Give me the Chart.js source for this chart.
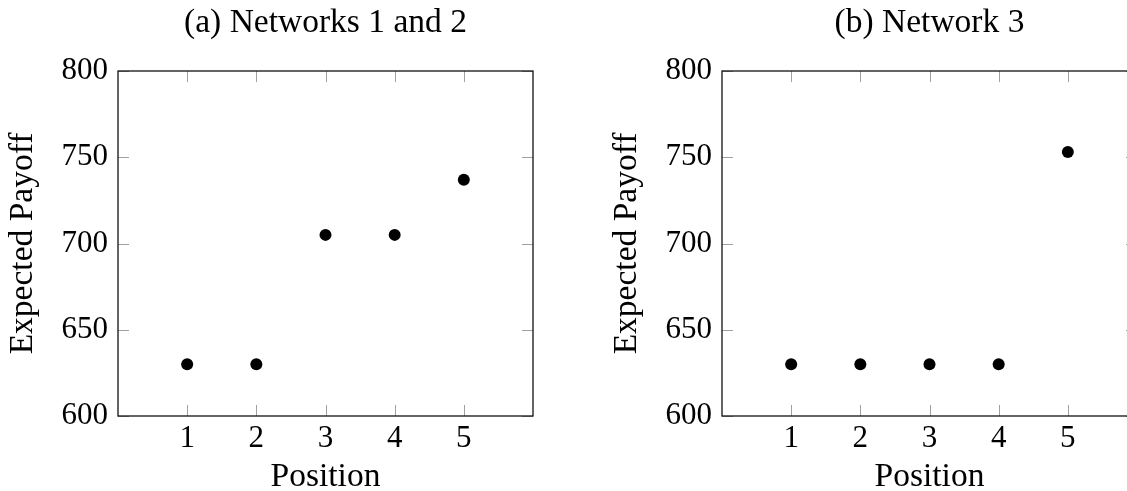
<!DOCTYPE html>
<html><head><meta charset="utf-8">
<script src="https://cdn.jsdelivr.net/npm/chart.js@4"></script>
<style>
html,body{margin:0;padding:0;overflow:hidden;width:1127px;height:491px;background:#fff}
canvas{position:absolute;top:0}
</style></head><body>
<canvas id="ca" width="563" height="500" style="left:0px"></canvas>
<canvas id="cb" width="563" height="500" style="left:604px"></canvas>
<script>
const positions = [1, 2, 3, 4, 5];
const payoffA = [630, 630, 705, 705, 737];
const payoffB = [630, 630, 630, 630, 753];
const xTicks = [1, 2, 3, 4, 5];
const yTicks = [600, 650, 700, 750, 800];
const titleA = '(a) Networks 1 and 2';
const titleB = '(b) Network 3';
const xLabel = 'Position';
const yLabel = 'Expected Payoff';

const FONT = "'Liberation Serif', 'Times New Roman', serif";
const FS = 31;
const FT = 33.5;

const frameTicks = {
  id: 'frameTicks',
  afterDatasetsDraw(chart, args, opts) {
    const {ctx, chartArea: a, scales} = chart;
    const L = 11;
    ctx.save();
    ctx.strokeStyle = '#a0a0a0';
    ctx.lineWidth = 1;
    scales.x.ticks.forEach(t => {
      const px = Math.round(scales.x.getPixelForValue(t.value)) + 0.5;
      ctx.beginPath();
      ctx.moveTo(px, a.bottom); ctx.lineTo(px, a.bottom - L);
      ctx.moveTo(px, a.top); ctx.lineTo(px, a.top + L);
      ctx.stroke();
    });
    scales.y.ticks.forEach(t => {
      const py = Math.round(scales.y.getPixelForValue(t.value)) + 0.5;
      ctx.beginPath();
      ctx.moveTo(a.left, py); ctx.lineTo(a.left + L, py);
      ctx.moveTo(a.right, py); ctx.lineTo(a.right - L, py);
      ctx.stroke();
    });
    ctx.strokeStyle = '#111';
    ctx.lineWidth = 1.3;
    ctx.strokeRect(a.left, a.top, a.right - a.left, a.bottom - a.top);
    // panel title centred over the plot area
    ctx.fillStyle = '#000';
    ctx.font = FT + 'px ' + FONT;
    ctx.textAlign = 'center';
    ctx.textBaseline = 'alphabetic';
    ctx.fillText(opts.text, (a.left + a.right) / 2, 32);
    ctx.restore();
  }
};

function makeChart(id, values, title) {
  return new Chart(document.getElementById(id), {
    type: 'scatter',
    data: {
      datasets: [{
        data: positions.map((p, i) => ({x: p, y: values[i]})),
        pointRadius: 6,
        pointHoverRadius: 6,
        pointBackgroundColor: '#000',
        pointBorderColor: '#000',
        pointBorderWidth: 0
      }]
    },
    options: {
      responsive: false,
      animation: false,
      devicePixelRatio: 1,
      layout: {padding: {left: 0, right: 30, top: 71, bottom: 0}},
      plugins: {
        legend: {display: false},
        tooltip: {enabled: false},
        title: {display: false},
        frameTicks: {text: title}
      },
      scales: {
        x: {
          type: 'linear',
          min: 0, max: 6,
          afterBuildTicks: s => { s.ticks = xTicks.map(v => ({value: v})); },
          afterFit: s => { s.height = 84; },
          grid: {display: false, drawTicks: false},
          border: {display: false},
          ticks: {color: '#000', padding: 4, font: {family: FONT, size: FS}, callback: v => String(v)},
          title: {display: true, text: xLabel, color: '#000', padding: {top: 0, bottom: 3},
                  font: {family: FONT, size: FT, lineHeight: 1.2}}
        },
        y: {
          type: 'linear',
          min: 600, max: 800,
          afterBuildTicks: s => { s.ticks = yTicks.map(v => ({value: v})); },
          afterFit: s => { s.width = 118; },
          grid: {display: false, drawTicks: false},
          border: {display: false},
          ticks: {color: '#000', padding: 10, font: {family: FONT, size: FS}, callback: v => String(v)},
          title: {display: true, text: yLabel, color: '#000', padding: {top: 3, bottom: 0},
                  font: {family: FONT, size: FT, lineHeight: 1.2}}
        }
      }
    },
    plugins: [frameTicks]
  });
}

makeChart('ca', payoffA, titleA);
makeChart('cb', payoffB, titleB);
</script>
</body></html>
